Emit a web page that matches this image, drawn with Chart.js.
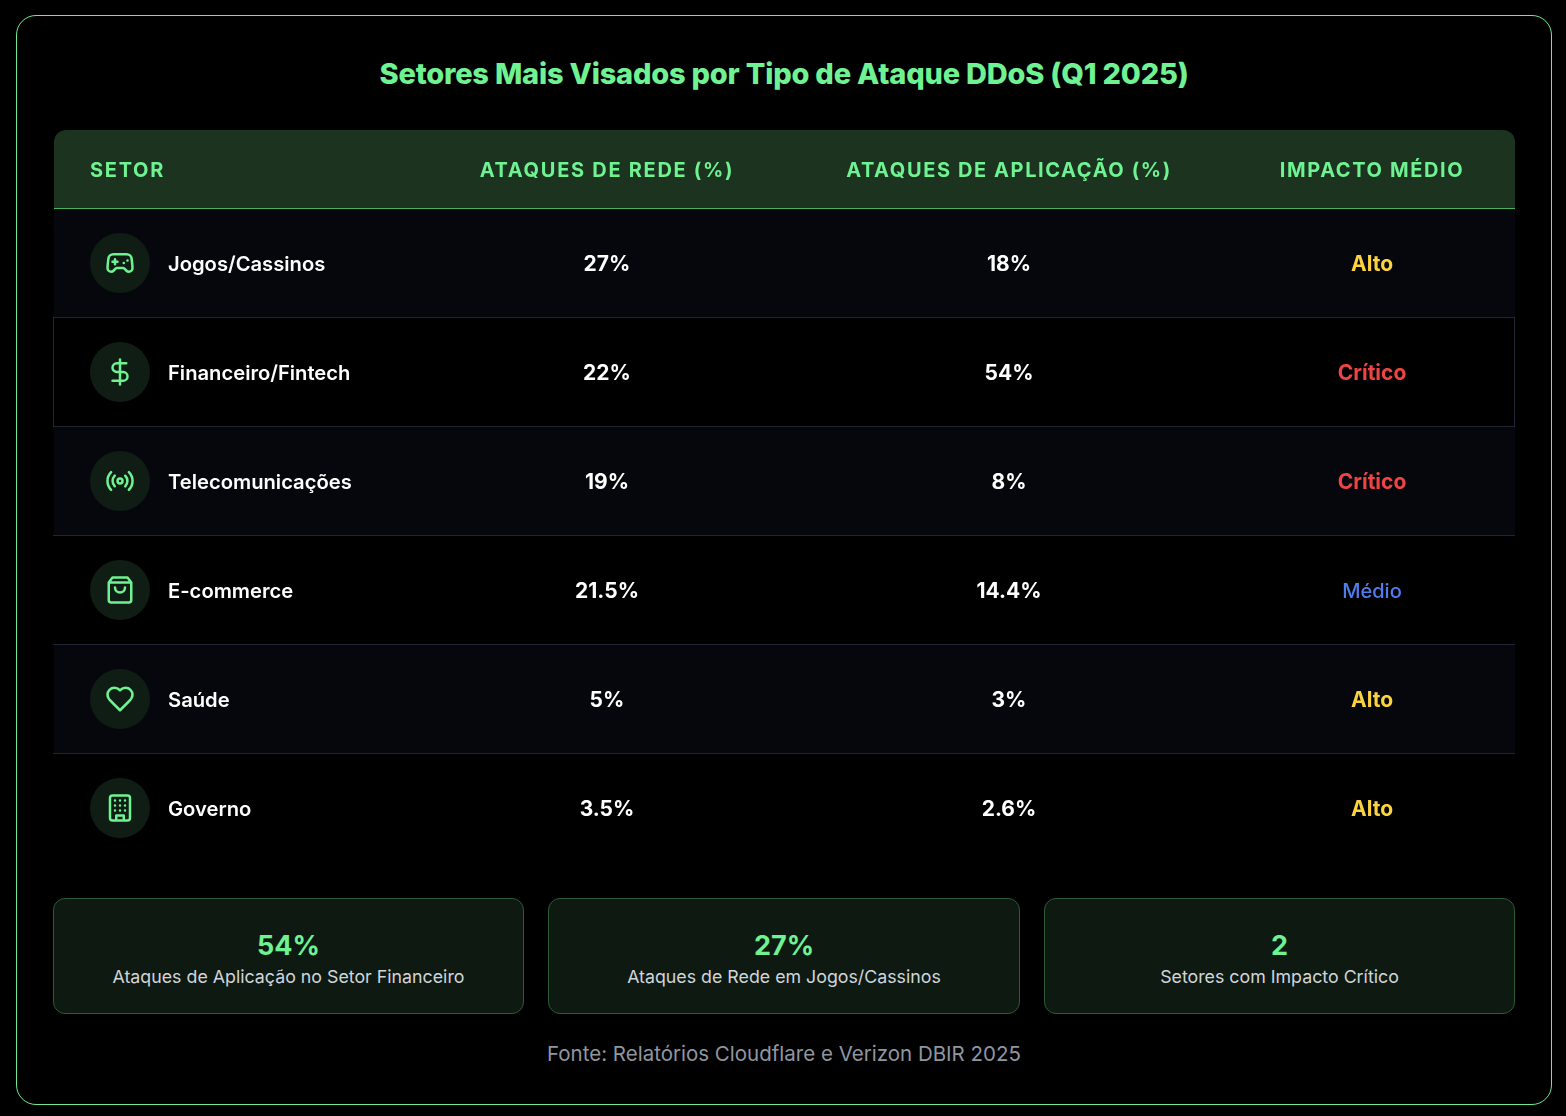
<!DOCTYPE html>
<html lang="pt-BR">
<head>
<meta charset="utf-8">
<title>Setores Mais Visados</title>
<script src="https://cdn.jsdelivr.net/npm/chart.js@4"></script>
<style>
  html, body { margin: 0; background: #000; }
  body { width: 1566px; height: 1116px; position: relative; overflow: hidden; font-family: Inter, sans-serif; }
  .frame { position: absolute; left: 16px; top: 15px; width: 1534px; height: 1088px; border: 1px solid #6fe893; border-radius: 20px; }
  h1 { position: absolute; left: 0; width: 1568px; top: 54px; margin: 0; text-align: center; font-size: 29px; line-height: 40px; font-weight: 800; letter-spacing: -0.2px; color: #6ff291; }
  #wrap { position: absolute; left: 53px; top: 130px; width: 1463px; height: 734px; }
  .stat { position: absolute; top: 898px; height: 114px; background: #0e1a11; border: 1px solid #2b5a34; border-radius: 12px; text-align: center; }
  .stat b { display: block; margin-top: 31px; font-size: 27px; line-height: 32px; font-weight: 700; color: #6ff291; }
  .stat span { display: block; margin-top: 3px; font-size: 17.8px; line-height: 24px; color: #d1d5db; }
  .source { position: absolute; left: 0; width: 1568px; top: 1041px; text-align: center; font-size: 20.5px; line-height: 26px; color: #9096a0; }
</style>
</head>
<body>
<div class="frame"></div>
<h1>Setores Mais Visados por Tipo de Ataque DDoS (Q1 2025)</h1>
<div id="wrap"><canvas id="myChart" width="1463" height="734"></canvas></div>
<div id="stats"></div>
<div class="source">Fonte: Relatórios Cloudflare e Verizon DBIR 2025</div>

<script>
const headers = ["SETOR", "ATAQUES DE REDE (%)", "ATAQUES DE APLICAÇÃO (%)", "IMPACTO MÉDIO"];
const sectors = ["Jogos/Cassinos", "Financeiro/Fintech", "Telecomunicações", "E-commerce", "Saúde", "Governo"];
const networkPct = [27, 22, 19, 21.5, 5, 3.5];
const appPct = [18, 54, 8, 14.4, 3, 2.6];
const impact = ["Alto", "Crítico", "Crítico", "Médio", "Alto", "Alto"];
const statValues = ["54%", "27%", "2"];
const statLabels = ["Ataques de Aplicação no Setor Financeiro", "Ataques de Rede em Jogos/Cassinos", "Setores com Impacto Crítico"];

const impactColors = { "Alto": "#fcd33f", "Crítico": "#ef4444", "Médio": "#4f7df0" };
const rowColors = ["#05070c", "#000000", "#05070c", "#000000", "#05070c", "#000000"];
const GREEN = "#6ff291";
const TABLE_WIDTH = 1461;

// lucide icons, 24x24 viewbox
const icons = [
  "M6 11h4M8 9v4M15 12h.01M18 10h.01M17.32 5H6.68a4 4 0 0 0-3.978 3.59c-.006.052-.01.101-.017.152C2.604 9.416 2 14.456 2 16a3 3 0 0 0 3 3c1 0 1.5-.5 2-1l1.414-1.414A2 2 0 0 1 9.828 16h4.344a2 2 0 0 1 1.414.586L17 18c.5.5 1 1 2 1a3 3 0 0 0 3-3c0-1.545-.604-6.584-.685-7.258-.007-.05-.011-.1-.017-.151A4 4 0 0 0 17.32 5z",
  "M12 2v20M17 5H9.5a3.5 3.5 0 0 0 0 7h5a3.5 3.5 0 0 1 0 7H6",
  "M4.9 19.1C1 15.2 1 8.8 4.9 4.9M7.8 16.2c-2.3-2.3-2.3-6.1 0-8.5M14 12a2 2 0 1 1-4 0a2 2 0 1 1 4 0M16.2 7.8c2.3 2.3 2.3 6.1 0 8.5M19.1 4.9C23 8.8 23 15.1 19.1 19",
  "M6 2 3 6v14a2 2 0 0 0 2 2h14a2 2 0 0 0 2-2V6l-3-4ZM3 6h18M16 10a4 4 0 0 1-8 0",
  "M19 14c1.49-1.46 3-3.21 3-5.5A5.5 5.5 0 0 0 16.5 3c-1.76 0-3 .5-4.5 2-1.5-1.5-2.74-2-4.5-2A5.5 5.5 0 0 0 2 8.5c0 2.3 1.5 4.05 3 5.5l7 7Z",
  "M6 2h12a2 2 0 0 1 2 2v16a2 2 0 0 1-2 2H6a2 2 0 0 1-2-2V4a2 2 0 0 1 2-2zM9 22v-4h6v4M8 6h.01M16 6h.01M12 6h.01M12 10h.01M12 14h.01M16 10h.01M16 14h.01M8 10h.01M8 14h.01"
];

function text(ctx, str, x, y, font, color, align, spacing) {
  ctx.font = font;
  ctx.fillStyle = color;
  ctx.textAlign = align;
  ctx.textBaseline = "middle";
  ctx.letterSpacing = spacing || "0px";
  ctx.fillText(str, x, y);
  ctx.letterSpacing = "0px";
}

const tablePlugin = {
  id: "table",
  beforeDatasetsDraw(chart) {
    const { ctx, chartArea } = chart;
    ctx.save();
    ctx.fillStyle = "#1c3320";
    ctx.beginPath();
    ctx.roundRect(chartArea.left, 0, chartArea.width, chartArea.top, [12, 12, 0, 0]);
    ctx.fill();
    ctx.restore();
  },
  afterDatasetsDraw(chart) {
    const { ctx, chartArea } = chart;
    const x = chart.scales.x, y = chart.scales.y;
    const band = y.getPixelForValue(1) - y.getPixelForValue(0);
    ctx.save();

    // header
    ctx.fillStyle = "#46b561";
    ctx.fillRect(chartArea.left, chartArea.top - 1, chartArea.width, 1);
    const headFont = "700 20px Inter";
    text(ctx, headers[0], x.getPixelForValue(36), 41, headFont, GREEN, "left", "1.7px");
    text(ctx, headers[1], x.getPixelForValue(553), 41, headFont, GREEN, "center", "1.7px");
    text(ctx, headers[2], x.getPixelForValue(955), 41, headFont, GREEN, "center", "1.6px");
    text(ctx, headers[3], x.getPixelForValue(1318), 41, headFont, GREEN, "center", "1.6px");

    sectors.forEach((name, i) => {
      const cy = y.getPixelForValue(i);
      const textY = cy + 1.5;
      const bottom = Math.round(cy + band / 2);

      // row rules
      ctx.fillStyle = "#1f2532";
      if (i < sectors.length - 1) ctx.fillRect(chartArea.left - 1, bottom - 1, chartArea.width + 1, 1);
      if (i === 1) {
        ctx.fillRect(chartArea.left - 1, bottom - band - 1, 1, band + 1);
        ctx.fillRect(chartArea.right - 1, bottom - band - 1, 1, band + 1);
      }

      // icon
      const cx = x.getPixelForValue(66);
      ctx.fillStyle = "#101d15";
      ctx.beginPath();
      ctx.arc(cx, cy - 0.5, 30, 0, Math.PI * 2);
      ctx.fill();
      ctx.save();
      ctx.translate(cx - 15, cy - 15.5);
      ctx.scale(1.25, 1.25);
      ctx.strokeStyle = GREEN;
      ctx.lineWidth = 2;
      ctx.lineCap = "round";
      ctx.lineJoin = "round";
      ctx.stroke(new Path2D(icons[i]));
      ctx.restore();

      // cells
      text(ctx, name, x.getPixelForValue(114), textY, "600 20.2px Inter", "#ffffff", "left");
      text(ctx, networkPct[i] + "%", x.getPixelForValue(553), textY, "700 21px Inter", "#ffffff", "center");
      text(ctx, appPct[i] + "%", x.getPixelForValue(955), textY, "700 21px Inter", "#ffffff", "center");
      const font = impact[i] === "Médio" ? "500 20px Inter" : "700 21px Inter";
      text(ctx, impact[i], x.getPixelForValue(1318), textY, font, impactColors[impact[i]], "center");
    });
    ctx.restore();
  }
};

new Chart("myChart", {
  type: "bar",
  data: {
    labels: sectors,
    datasets: [{
      data: sectors.map(() => TABLE_WIDTH),
      backgroundColor: rowColors,
      barPercentage: 1,
      categoryPercentage: 1
    }]
  },
  options: {
    indexAxis: "y",
    responsive: false,
    animation: false,
    layout: { padding: { left: 1, right: 1, top: 79, bottom: 1 } },
    plugins: { legend: { display: false }, tooltip: { enabled: false } },
    scales: {
      x: { display: false, min: 0, max: TABLE_WIDTH },
      y: { display: false }
    }
  },
  plugins: [tablePlugin]
});

// summary cards
const statLefts = [53, 548, 1044];
const statWidths = [469, 470, 469];
document.getElementById("stats").innerHTML = statValues.map((v, i) =>
  `<div class="stat" style="left:${statLefts[i]}px;width:${statWidths[i]}px"><b>${v}</b><span>${statLabels[i]}</span></div>`
).join("");
</script>
</body>
</html>
